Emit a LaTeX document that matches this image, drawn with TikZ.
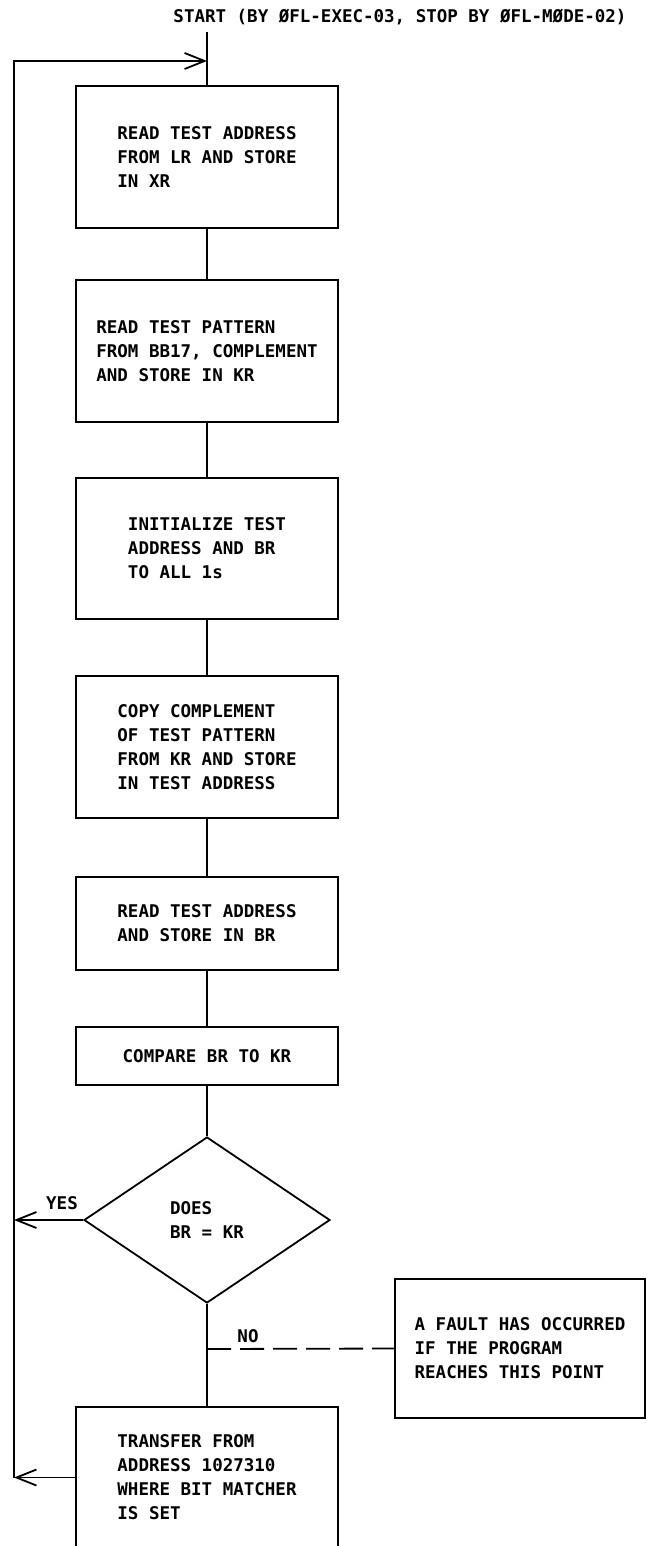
\documentclass[tikz,border=0pt]{standalone}
\usepackage{fontspec}
\newfontfamily\leroyfont{DejaVu Sans Mono}
\usepackage{tikz}
\usetikzlibrary{arrows.meta, shapes.geometric}
\tikzset{
	flowtext/.style={font=\leroyfont\bfseries\fontsize{17.5}{24}\selectfont},
	flowbox/.style={draw, line width=1.8pt, align=left, minimum width=262pt, flowtext},
	testbox/.style={draw, diamond, line width=1.8pt, align=left, minimum width=246pt, minimum height=166pt, inner sep=0pt, flowtext},
	flowline/.style={line width=1.8pt},
	flowarr/.style={line width=1.8pt, -{Straight Barb[length=20pt, width=16pt]}},
	faultline/.style={line width=1.8pt, dash pattern=on 24pt off 9pt},
}

\begin{document}
\begin{tikzpicture}[x=1pt, y=-1pt]
				\useasboundingbox (0,0) rectangle (646,1546);
				\clip (0,0) rectangle (646,1546);
				\node[flowtext] (start) at (400,17) {START (BY ØFL-EXEC-03, STOP BY ØFL-MØDE-02)};
				\coordinate (go) at (207,32);
				\node[flowbox, minimum height=142pt] (readaddr) at (207,157) {READ TEST ADDRESS\\FROM LR AND STORE\\IN XR};
				\node[flowbox, minimum height=142pt] (readpat) at (207,351) {READ TEST PATTERN\\FROM BB17, COMPLEMENT\\AND STORE IN KR};
				\node[flowbox, minimum height=141pt] (init) at (207,548.5) {INITIALIZE TEST\\ADDRESS AND BR\\TO ALL 1s};
				\node[flowbox, minimum height=142pt] (copy) at (207,747) {COPY COMPLEMENT\\OF TEST PATTERN\\FROM KR AND STORE\\IN TEST ADDRESS};
				\node[flowbox, minimum height=93pt] (readbr) at (207,923.5) {READ TEST ADDRESS\\AND STORE IN BR};
				\node[flowbox, minimum height=58pt] (compare) at (207,1056) {COMPARE BR TO KR};
				\node[testbox] (test) at (207,1220) {DOES\\BR = KR};
				\node[flowbox, minimum width=250pt, minimum height=139pt] (fault) at (520,1348.5) {A FAULT HAS OCCURRED\\IF THE PROGRAM\\REACHES THIS POINT};
				\node[flowbox, minimum height=141pt] (transfer) at (207,1477.5) {TRANSFER FROM\\ADDRESS 1027310\\WHERE BIT MATCHER\\IS SET};
				\node[flowtext] (yes) at (62,1203) {YES};
				\node[flowtext] (no) at (248,1336) {NO};
				\coordinate (looptop) at (14,61);
				\coordinate (loopbot) at (14,1477.5);
				\coordinate (entry) at (207,61);
				\coordinate (nojoin) at (207,1349);
				% main column
				\draw[flowline] (go) -- (readaddr);
				\draw[flowline] (readaddr) -- (readpat);
				\draw[flowline] (readpat) -- (init);
				\draw[flowline] (init) -- (copy);
				\draw[flowline] (copy) -- (readbr);
				\draw[flowline] (readbr) -- (compare);
				\draw[flowline] (compare) -- (test);
				\draw[flowline] (test) -- (transfer);
				\draw[faultline] (nojoin) -- (fault.west);
				% return loop
				\draw[flowarr] (loopbot) -- (looptop) -- (entry);
				\draw[flowarr] (test.west) -- (test.west -| looptop);
				\draw[flowarr] (transfer.west) -- (loopbot);
			\end{tikzpicture}
\end{document}
